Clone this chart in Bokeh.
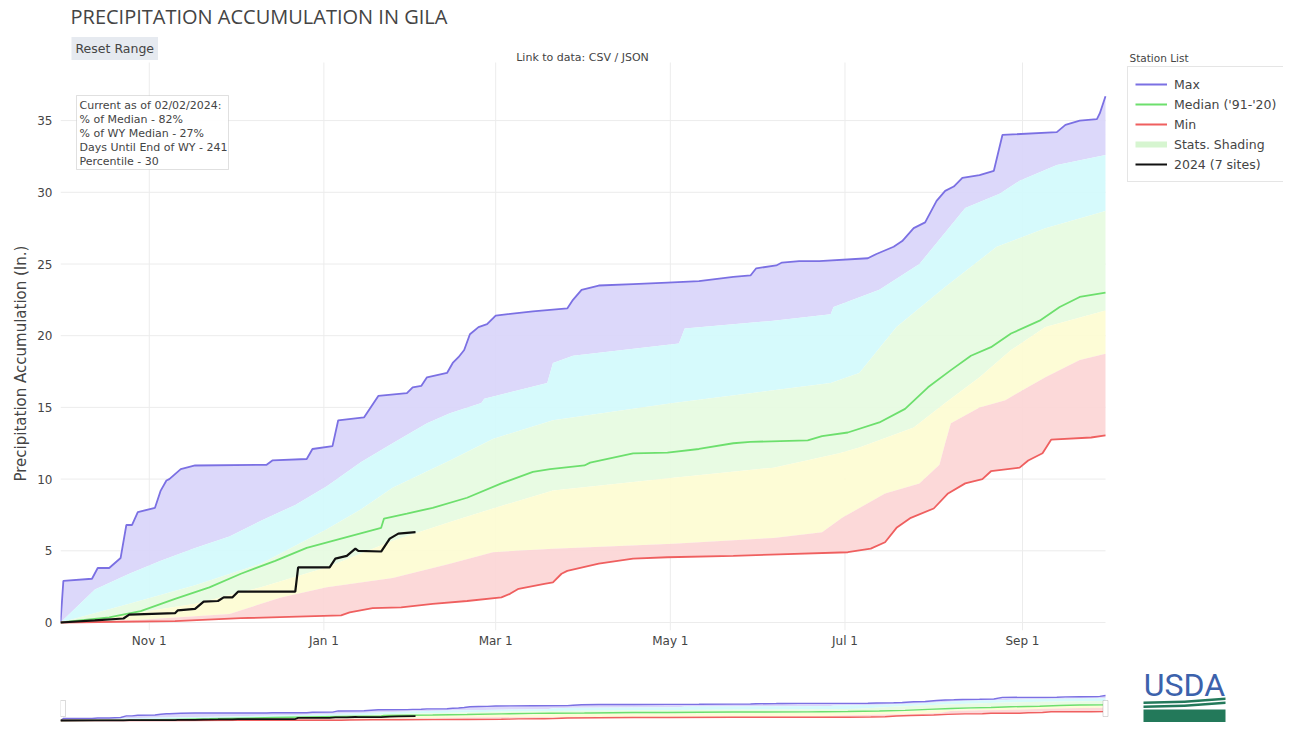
from datetime import datetime, timedelta
from bokeh.plotting import figure
from bokeh.models import (Range1d, FixedTicker, CustomJSTickFormatter, Legend, LegendItem,
                          Label, BoxAnnotation, PolyAnnotation, Title)
from bokeh.layouts import column
from bokeh.embed import file_html
from bokeh.resources import INLINE

WY_START = datetime(2023, 10, 1)
WY_LEN = 365  # Oct 1 2023 .. Sep 30 2024

# ---- data (day of water year, inches) ----
max_days = [0, 1, 11, 13, 17, 21, 23, 25, 27, 33, 35, 37, 38, 42, 47, 72, 74, 86, 88, 95, 97, 106, 111, 121, 123,
            126, 128, 135, 137, 139, 141, 143, 146, 149, 152, 165, 177, 179, 182, 188, 200, 212, 223, 235, 241,
            243, 250, 252, 258, 265, 282, 285, 291, 294, 298, 302, 306, 309, 312, 315, 321, 326, 329, 348, 351,
            356, 362, 363, 365]
max_vals = [0, 2.9, 3.05, 3.8, 3.8, 4.5, 6.8, 6.8, 7.7, 8.0, 9.2, 9.9, 10.0, 10.7, 10.95, 11.0, 11.3, 11.4, 12.1,
            12.3, 14.1, 14.3, 15.8, 16.0, 16.4, 16.5, 17.1, 17.4, 18.1, 18.5, 19.0, 20.1, 20.6, 20.8, 21.4, 21.7,
            21.9, 22.5, 23.2, 23.5, 23.6, 23.7, 23.8, 24.1, 24.2, 24.7, 24.9, 25.1, 25.2, 25.2, 25.4, 25.7, 26.2,
            26.6, 27.5, 27.9, 29.4, 30.1, 30.4, 31.0, 31.2, 31.5, 34.0, 34.2, 34.7, 35.0, 35.1, 35.5, 36.7]

median_days = [0, 17, 28, 40, 52, 63, 75, 86, 98, 112, 113, 121, 130, 142, 154, 165, 171, 183, 185, 200, 212, 223,
               235, 241, 261, 266, 275, 286, 295, 303, 311, 318, 325, 332, 342, 349, 356, 365]
median_vals = [0, 0.35, 0.8, 1.65, 2.45, 3.4, 4.3, 5.2, 5.85, 6.6, 7.25, 7.6, 8.0, 8.7, 9.7, 10.5, 10.7, 10.95,
               11.15, 11.8, 11.85, 12.1, 12.5, 12.6, 12.7, 13.0, 13.25, 13.95, 14.9, 16.4, 17.6, 18.6, 19.2, 20.15,
               21.05, 22.0, 22.7, 23.0]

min_days = [0, 40, 63, 98, 101, 109, 119, 130, 142, 154, 157, 160, 169, 172, 175, 177, 188, 200, 212, 235, 251,
            275, 283, 288, 292, 297, 305, 310, 316, 322, 325, 335, 338, 343, 346, 360, 365]
min_vals = [0, 0.1, 0.3, 0.5, 0.7, 1.0, 1.05, 1.3, 1.5, 1.75, 2.0, 2.35, 2.7, 2.8, 3.4, 3.6, 4.1, 4.45, 4.55, 4.65,
            4.75, 4.9, 5.15, 5.6, 6.6, 7.3, 7.95, 9.0, 9.7, 10.0, 10.55, 10.8, 11.3, 11.8, 12.75, 12.9, 13.05]

p90_days = [0, 12, 24, 35, 47, 59, 70, 82, 93, 105, 116, 128, 136, 147, 148, 170, 172, 179, 216, 218, 249, 269,
            270, 286, 300, 316, 328, 335, 348, 365]
p90_vals = [0, 2.3, 3.4, 4.3, 5.2, 6.0, 7.1, 8.2, 9.5, 11.2, 12.5, 13.9, 14.6, 15.3, 15.6, 16.7, 18.1, 18.6, 19.45,
            20.5, 21.05, 21.5, 22.0, 23.2, 25.0, 28.9, 29.9, 30.8, 31.9, 32.6]

p70_days = [0, 24, 47, 70, 93, 105, 116, 136, 151, 172, 214, 249, 269, 279, 292, 309, 327, 344, 365]
p70_vals = [0, 1.3, 2.6, 4.1, 6.5, 7.9, 9.4, 11.3, 12.8, 14.1, 15.3, 16.2, 16.7, 17.4, 20.6, 23.4, 26.2, 27.5, 28.7]

p30_days = [0, 24, 47, 70, 93, 116, 136, 151, 172, 214, 249, 272, 279, 298, 309, 321, 332, 344, 365]
p30_vals = [0, 0.6, 1.3, 2.45, 3.85, 5.7, 7.0, 7.95, 9.2, 10.1, 10.8, 11.8, 12.2, 13.6, 15.3, 17.1, 19.0, 20.6, 21.75]

p10_days = [0, 28, 59, 77, 93, 116, 136, 151, 172, 214, 249, 266, 273, 288, 300, 307, 309, 311, 321, 330, 336, 344,
            356, 365]
p10_vals = [0, 0.2, 0.6, 1.75, 2.45, 3.1, 4.1, 4.9, 5.15, 5.5, 5.9, 6.3, 7.3, 9.0, 9.7, 11.0, 12.5, 13.9, 15.0, 15.5,
            16.2, 17.1, 18.3, 18.75]

wy2024_days = [0, 12, 22, 24, 40, 41, 47, 50, 55, 57, 60, 62, 82, 83, 94, 96, 100, 103, 104, 112, 115, 118, 124]
wy2024_vals = [0, 0.15, 0.28, 0.55, 0.65, 0.85, 0.95, 1.45, 1.5, 1.75, 1.75, 2.15, 2.15, 3.85, 3.85, 4.45, 4.65,
               5.15, 5.0, 4.95, 5.85, 6.2, 6.3]

tick_dates = ["2023-11-01", "2024-01-01", "2024-03-01", "2024-05-01", "2024-07-01", "2024-09-01"]
y_ticks = [0, 5, 10, 15, 20, 25, 30, 35]

legend_labels = ["Max", "Median ('91-'20)", "Min", "Stats. Shading", "2024 (7 sites)"]
stats_lines = ["Current as of 02/02/2024:", "% of Median - 82%", "% of WY Median - 27%",
               "Days Until End of WY - 241", "Percentile - 30"]

# ---- styles ----
C_MAX = "#7b70e3"
C_MED = "#6ddf6d"
C_MIN = "#ef5f5f"
C_CUR = "#111111"
F_PURPLE = "#d9d5fa"
F_CYAN = "#d2fafc"
F_GREEN = "#e6fbe1"
F_YELLOW = "#fdfcd3"
F_RED = "#fcd6d6"
C_SHADE = "#d6f5d0"
TXT = "#444444"
SMALL = "DejaVu Sans"
OPEN = "Open Sans"

# ---- geometry (page pixels; the canvas sits at the page's top-left) ----
W = 1283
L = 60                   # frame left at page x=60
H1, B1 = 660, 30         # frame bottom at page y=630
H2 = 62                  # range-slider strip
PPD = 1045 / 365.0       # pixels per day
PPI = 14.34              # pixels per inch (main)
F_LEFT = L
F_BOTTOM = H1 - B1
Y_LO = -(F_BOTTOM - 622) / PPI
Y_HI = Y_LO + F_BOTTOM / PPI
GRID_TOP = (622 - 62) / PPI
X_END_DAYS = (W - L) / PPD
MINI_PPI = 0.68
MINI_LO = -2 / MINI_PPI
MINI_HI = MINI_LO + H2 / MINI_PPI
Q_BOTTOM = H1 + H2


def to_dates(days):
    return [WY_START + timedelta(days=d) for d in days]


def ms(d):
    return (d - datetime(1970, 1, 1)).total_seconds() * 1000.0


def draw(fig, lw):
    bands = [((max_days, max_vals), (p90_days, p90_vals), F_PURPLE),
             ((p90_days, p90_vals), (p70_days, p70_vals), F_CYAN),
             ((p70_days, p70_vals), (p30_days, p30_vals), F_GREEN),
             ((p30_days, p30_vals), (p10_days, p10_vals), F_YELLOW),
             ((p10_days, p10_vals), (min_days, min_vals), F_RED)]
    for (ud, uv), (ld, lv), col in bands:
        xs = to_dates(ud) + to_dates(ld)[::-1]
        ys = list(uv) + list(lv)[::-1]
        fig.patch(x=xs, y=ys, fill_color=col, fill_alpha=0.92, line_color=None)
    r_max = fig.line(to_dates(max_days), max_vals, line_color=C_MAX, line_width=1.8 * lw)
    r_med = fig.line(to_dates(median_days), median_vals, line_color=C_MED, line_width=1.8 * lw)
    r_min = fig.line(to_dates(min_days), min_vals, line_color=C_MIN, line_width=1.8 * lw)
    r_cur = fig.line(to_dates(wy2024_days), wy2024_vals, line_color=C_CUR, line_width=2.2 * lw)
    return r_max, r_med, r_min, r_cur


x_rng = Range1d(WY_START, WY_START + timedelta(days=X_END_DAYS))

p = figure(width=W, height=H1, x_axis_type="datetime", x_range=x_rng,
           y_range=Range1d(Y_LO, Y_HI),
           output_backend="svg", toolbar_location=None,
           min_border_left=L, min_border_right=0, min_border_top=0, min_border_bottom=B1)
p.outline_line_color = None
p.background_fill_color = "white"
p.border_fill_color = "white"
p.xgrid.visible = False
p.ygrid.visible = False

# grid lines limited to the plotting area
wy_end = WY_START + timedelta(days=WY_LEN)
tick_dt = [datetime.strptime(d, "%Y-%m-%d") for d in tick_dates]
p.segment(x0=[WY_START] * len(y_ticks), x1=[wy_end] * len(y_ticks), y0=y_ticks, y1=y_ticks,
          line_color="#ececec", line_width=1)
p.segment(x0=tick_dt, x1=tick_dt, y0=[Y_LO] * len(tick_dt), y1=[GRID_TOP] * len(tick_dt),
          line_color="#ececec", line_width=1)

r_max, r_med, r_min, r_cur = draw(p, 1.0)
# legend swatch for the percentile shading (a single point: draws no line itself)
r_shade = p.line(to_dates(median_days[:1]), median_vals[:1], line_color=C_SHADE, line_width=6)

# axes
p.xaxis.ticker = FixedTicker(ticks=[ms(d) for d in tick_dt])
p.xaxis.formatter = CustomJSTickFormatter(code="""
const m = ["Jan","Feb","Mar","Apr","May","Jun","Jul","Aug","Sep","Oct","Nov","Dec"];
const d = new Date(tick);
return m[d.getUTCMonth()] + " " + d.getUTCDate();
""")
p.yaxis.ticker = FixedTicker(ticks=y_ticks)
for ax in (p.xaxis, p.yaxis):
    ax.axis_line_color = None
    ax.major_tick_line_color = None
    ax.minor_tick_line_color = None
    ax.major_tick_out = 0
    ax.major_tick_in = 0
    ax.minor_tick_out = 0
    ax.major_label_text_color = TXT
    ax.major_label_text_font = SMALL
    ax.major_label_text_font_size = "12px"
p.xaxis.major_label_standoff = 3
p.yaxis.major_label_standoff = 8

ytitle = Title(text="Precipitation Accumulation (In.)", align="left", offset=F_BOTTOM - 481,
               vertical_align="middle", standoff=8,
               text_font=SMALL, text_font_size="15px", text_font_style="normal", text_color=TXT)
p.add_layout(ytitle, "left")


def lab(fig, x, y, text, size, font=SMALL, color=TXT, align="left", baseline="middle", **kw):
    try:
        lbl = Label(x=x, y=y, x_units="screen", y_units="screen", text=text,
                    text_font=font, text_font_size=size, text_color=color,
                    text_align=align, text_baseline=baseline, **kw)
    except Exception:
        kw.pop("padding", None)
        lbl = Label(x=x, y=y, x_units="screen", y_units="screen", text=text,
                    text_font=font, text_font_size=size, text_color=color,
                    text_align=align, text_baseline=baseline, **kw)
    fig.add_layout(lbl)


def sx(px):
    return px - F_LEFT


def sy(py):
    return F_BOTTOM - py


lab(p, sx(70), sy(15.5), "PRECIPITATION ACCUMULATION IN GILA", "20px", font=OPEN)
lab(p, sx(71), sy(48), "Reset Range", "12.5px", background_fill_color="#e6eaf0", padding=4)
lab(p, sx(582), sy(57), "Link to data: CSV / JSON", "11px", align="center")
lab(p, sx(1129), sy(57), "Station List", "10.5px")

p.add_layout(BoxAnnotation(left=sx(76), right=sx(228), top=sy(95), bottom=sy(169),
                           left_units="screen", right_units="screen", top_units="screen", bottom_units="screen",
                           fill_color="white", fill_alpha=0.9, line_color="#999999", line_width=1))
for i, t in enumerate(stats_lines):
    lab(p, sx(79), sy(105 + 14 * i), t, "11px")

legend = Legend(items=[LegendItem(label=legend_labels[0], renderers=[r_max]),
                       LegendItem(label=legend_labels[1], renderers=[r_med]),
                       LegendItem(label=legend_labels[2], renderers=[r_min]),
                       LegendItem(label=legend_labels[3], renderers=[r_shade]),
                       LegendItem(label=legend_labels[4], renderers=[r_cur])],
                location=(sx(1127), sy(182)), orientation="vertical",
                label_text_font=SMALL, label_text_font_size="12.5px", label_text_color=TXT,
                border_line_color="#cccccc", background_fill_color="white", background_fill_alpha=1,
                padding=7, spacing=0, margin=0, glyph_width=32, glyph_height=20, label_height=20,
                label_standoff=7)
p.add_layout(legend)

# ---- range slider preview ----
q = figure(width=W, height=H2, x_axis_type="datetime", x_range=x_rng,
           y_range=Range1d(MINI_LO, MINI_HI),
           output_backend="svg", toolbar_location=None,
           x_axis_location=None, y_axis_location=None,
           min_border_left=L, min_border_right=0, min_border_top=0, min_border_bottom=0)
q.outline_line_color = None
q.xgrid.visible = False
q.ygrid.visible = False
q.background_fill_color = "white"
q.border_fill_color = "white"
draw(q, 0.8)


def qx(px):
    return px - F_LEFT


def qy(py):
    return Q_BOTTOM - py


for hx in (62.5, 1105):
    q.add_layout(BoxAnnotation(left=qx(hx - 2.5), right=qx(hx + 2.5), bottom=qy(716), top=qy(700),
                               left_units="screen", right_units="screen", top_units="screen",
                               bottom_units="screen", fill_color="white", fill_alpha=1,
                               line_color="#888888", line_width=1))

# USDA logo
lab(q, qx(1184), qy(684), "USDA", "32px", font="Roboto", color="#3c62ac", align="center")
q.add_layout(BoxAnnotation(left=qx(1143), right=qx(1225), bottom=qy(722), top=qy(709),
                           left_units="screen", right_units="screen", top_units="screen", bottom_units="screen",
                           fill_color="#23795a", fill_alpha=1, line_color=None))
for off in (0, 4):
    q.add_layout(PolyAnnotation(
        xs=[qx(1143), qx(1184), qx(1225), qx(1225), qx(1184), qx(1143)],
        ys=[qy(701 + off), qy(700 + off), qy(697 + off), qy(699.5 + off), qy(702.5 + off), qy(703.5 + off)],
        xs_units="screen", ys_units="screen", fill_color="#23795a", fill_alpha=1, line_color=None))

layout = column(p, q, spacing=0)
open("out.html", "w").write(file_html(layout, INLINE))
